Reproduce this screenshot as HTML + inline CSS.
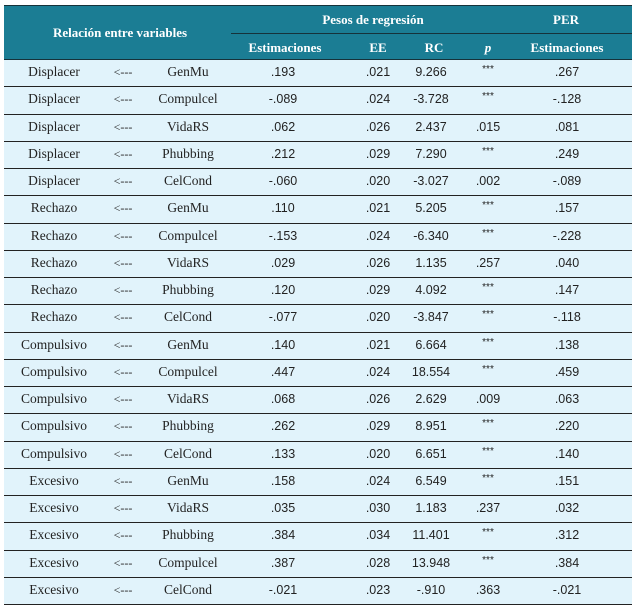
<!DOCTYPE html>
<html><head><meta charset="utf-8"><style>
body{margin:0;background:#fff;width:638px;height:607px;position:relative;overflow:hidden}
.t{position:absolute;left:4px;top:5px;width:628px}
.hd{position:absolute;left:0;top:0;width:628px;height:55px;background:#1b7d94;border-top:1px solid #16323a;border-bottom:1px solid #16323a;box-sizing:border-box}
.h{position:absolute;color:#fff;font:bold 13px/15px "Liberation Serif",serif;transform:translateX(-50%);white-space:nowrap}
.r{position:absolute;left:0;width:628px;height:27.25px;background:#e1f3fb;border-bottom:1px solid #222;box-sizing:border-box}
.c{position:absolute;top:4px;transform:translateX(-50%);font:13.5px "Liberation Serif",serif;line-height:15px;color:#222;white-space:nowrap}
.n{font-family:"Liberation Sans",sans-serif;font-size:12.5px;top:5px}
.s{font-size:10px;top:2px}
</style></head><body>
<div class="t">
<div class="hd">
<div class="h" style="left:116px;top:19px">Relación entre variables</div>
<div class="h" style="left:369px;top:6px">Pesos de regresión</div>
<div class="h" style="left:562px;top:6px">PER</div>
<div style="position:absolute;left:227px;top:27px;width:401px;height:1px;background:#16323a"></div>
<div class="h" style="left:281px;top:34px">Estimaciones</div>
<div class="h" style="left:374px;top:34px">EE</div>
<div class="h" style="left:430px;top:34px">RC</div>
<div class="h" style="left:484px;top:34px;font-style:italic">p</div>
<div class="h" style="left:563px;top:34px">Estimaciones</div>
</div>
<div id="rows"></div>
</div>
<script>
var d=[["Displacer","GenMu",".193",".021","9.266","***",".267"],
["Displacer","Compulcel","-.089",".024","-3.728","***","-.128"],
["Displacer","VidaRS",".062",".026","2.437",".015",".081"],
["Displacer","Phubbing",".212",".029","7.290","***",".249"],
["Displacer","CelCond","-.060",".020","-3.027",".002","-.089"],
["Rechazo","GenMu",".110",".021","5.205","***",".157"],
["Rechazo","Compulcel","-.153",".024","-6.340","***","-.228"],
["Rechazo","VidaRS",".029",".026","1.135",".257",".040"],
["Rechazo","Phubbing",".120",".029","4.092","***",".147"],
["Rechazo","CelCond","-.077",".020","-3.847","***","-.118"],
["Compulsivo","GenMu",".140",".021","6.664","***",".138"],
["Compulsivo","Compulcel",".447",".024","18.554","***",".459"],
["Compulsivo","VidaRS",".068",".026","2.629",".009",".063"],
["Compulsivo","Phubbing",".262",".029","8.951","***",".220"],
["Compulsivo","CelCond",".133",".020","6.651","***",".140"],
["Excesivo","GenMu",".158",".024","6.549","***",".151"],
["Excesivo","VidaRS",".035",".030","1.183",".237",".032"],
["Excesivo","Phubbing",".384",".034","11.401","***",".312"],
["Excesivo","Compulcel",".387",".028","13.948","***",".384"],
["Excesivo","CelCond","-.021",".023","-.910",".363","-.021"]];
var h="";d.forEach(function(r,i){var y=55+i*27.25;
h+='<div class="r" style="top:'+y+'px">'+
'<div class="c" style="left:50px">'+r[0]+'</div>'+
'<div class="c" style="left:119px;font-size:12px;top:5px">&lt;---</div>'+
'<div class="c" style="left:184px">'+r[1]+'</div>'+
'<div class="c n" style="left:279px">'+r[2]+'</div>'+
'<div class="c n" style="left:374px">'+r[3]+'</div>'+
'<div class="c n" style="left:427px">'+r[4]+'</div>'+
(r[5]=="***"?'<div class="c n s" style="left:484px">***</div>':'<div class="c n" style="left:484px">'+r[5]+'</div>')+
'<div class="c n" style="left:563px">'+r[6]+'</div></div>';});
document.getElementById("rows").innerHTML=h;
</script>
</body></html>
